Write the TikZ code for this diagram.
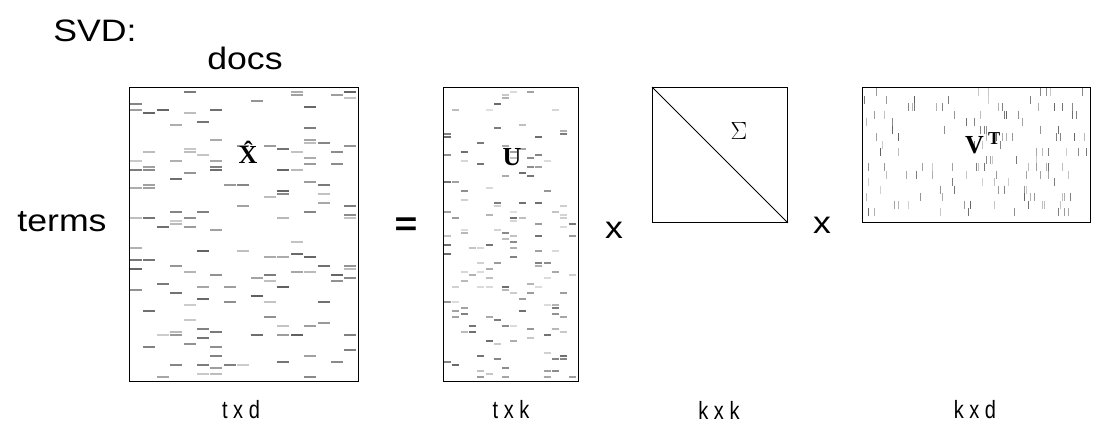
\documentclass[tikz,border=0pt]{standalone}
\usepackage{fontspec}
\setmainfont{Liberation Sans}
\newfontfamily\serifbold{Liberation Serif}
\newfontfamily\widefont[FakeStretch=1.15]{Liberation Sans}
\newfontfamily\narrowfont[FakeStretch=0.8]{Liberation Sans}
\usetikzlibrary{positioning}

\tikzset{
  matbox/.style={draw, line width=1.4pt, inner sep=0pt, anchor=north west},
  bigtext/.style={font=\widefont\fontsize{31}{36}\selectfont},
  dimtext/.style={font=\narrowfont\fontsize{25}{30}\selectfont},
  mattext/.style={font=\serifbold\bfseries\fontsize{26}{30}\selectfont},
}

\begin{document}
\begin{tikzpicture}[x=1pt, y=-1pt]
  \useasboundingbox (0,0) rectangle (1102,423);
  \pgfmathsetseed{17}

  % matrices
  \node[matbox, minimum width=229pt, minimum height=294pt] (xhat) at (129,87) {};
  \node[matbox, minimum width=135pt, minimum height=294pt] (umat) at (443,87) {};
  \node[matbox, line width=0.9pt, minimum width=135pt, minimum height=135pt] (sigma) at (652,87) {};
  \node[matbox, minimum width=228pt, minimum height=135pt] (vmat) at (862,87) {};
  \draw[line width=0.9pt] (sigma.north west) -- (sigma.south east);

  % entries of X hat
  \begin{scope}[shift={(xhat.north west)}]
    \foreach \i in {1,...,150}{
      \pgfmathrandominteger{\c}{0}{16}
      \pgfmathrandominteger{\r}{0}{96}
      \pgfmathrandominteger{\g}{20}{62}
      \draw[line width=1.3pt, black!\g] (1+\c*13.4,2+\r*3) -- ++(12,0);
    }
  \end{scope}
  % entries of U
  \begin{scope}[shift={(umat.north west)}]
    \foreach \i in {1,...,150}{
      \pgfmathrandominteger{\c}{0}{15}
      \pgfmathrandominteger{\r}{0}{96}
      \pgfmathrandominteger{\g}{12}{58}
      \draw[line width=1.3pt, black!\g] (1+\c*8.3,2+\r*3) -- ++(7,0);
    }
  \end{scope}
  % entries of V^T
  \begin{scope}[shift={(vmat.north west)}]
    \foreach \i in {1,...,140}{
      \pgfmathrandominteger{\c}{1}{112}
      \pgfmathrandominteger{\r}{0}{16}
      \pgfmathrandominteger{\g}{18}{62}
      \draw[line width=0.9pt, black!\g] (\c*2,1+\r*7.5) -- ++(0,8);
    }
  \end{scope}

  % matrix names
  \node[mattext] (xname) at (248,152) {\^{X}};
  \node[mattext] (uname) at (512,157) {U};
  \node[font=\fontsize{24}{26}\selectfont] (sname) at (739,131) {$\Sigma$};
  \node[mattext] (vname) at (983,143) {V\,\textsuperscript{T}};

  % labels
  \node[bigtext] (title) at (95,31) {SVD:};
  \node[bigtext] (docs) at (245,58) {docs};
  \node[bigtext] (terms) at (62,222) {terms};
  \node[bigtext, font=\widefont\bfseries\fontsize{34}{38}\selectfont] (eq) at (406,227) {=};
  \node[bigtext] (times1) at (614,230) {x};
  \node[bigtext] (times2) at (822,225) {x};

  % dimensions
  \node[dimtext] (dx) at (241,410) {t x d};
  \node[dimtext] (du) at (511,410) {t x k};
  \node[dimtext] (ds) at (719,410) {k x k};
  \node[dimtext] (dv) at (975,410) {k x d};
\end{tikzpicture}
\end{document}
